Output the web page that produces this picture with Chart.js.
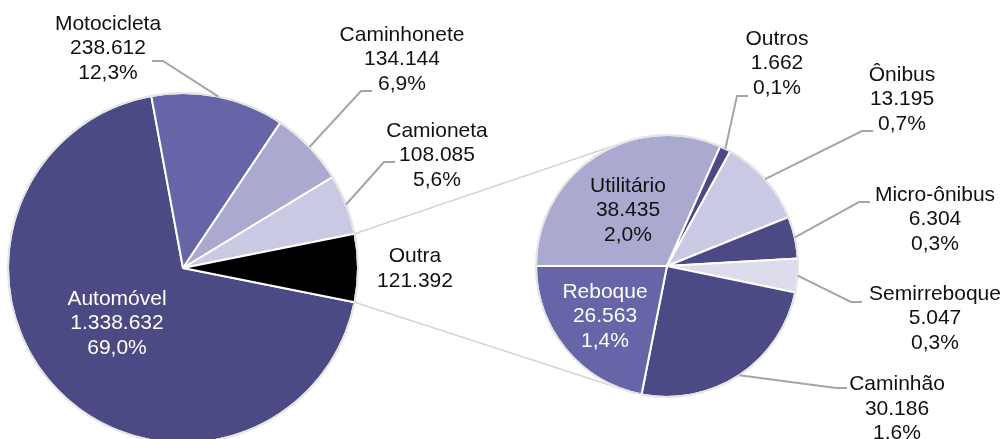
<!DOCTYPE html>
<html>
<head>
<meta charset="utf-8">
<script src="https://cdn.jsdelivr.net/npm/chart.js@4/dist/chart.umd.min.js"></script>
<style>
html, body { margin: 0; padding: 0; background: #fff; overflow: hidden; }
#wrap { position: relative; width: 1001px; height: 439px; }
#wrap canvas { position: absolute; left: 0; top: 0; }
</style>
</head>
<body>
<div id="wrap">
	<canvas id="main" width="1001" height="439"></canvas>
	<canvas id="detail" width="1001" height="439"></canvas>
</div>
<script>
// frota por tipo de veículo
const mainLabels = ['Automóvel', 'Motocicleta', 'Caminhonete', 'Camioneta', 'Outra'];
const mainValues = [1338632, 238612, 134144, 108085, 121392];

// detalhamento de "Outra"
const detailLabels = ['Utilitário', 'Outros', 'Ônibus', 'Micro-ônibus', 'Semirreboque', 'Caminhão', 'Reboque'];
const detailValues = [38435, 1662, 13195, 6304, 5047, 30186, 26563];

const mainColors = ['#4b4a85', '#6565a7', '#aaaad1', '#c9c9e3', '#000000'];
const detailColors = ['#aaaad1', '#4b4a85', '#c9c9e3', '#4b4a85', '#dcdcec', '#4b4a85', '#6565a7'];

// posição dos rótulos (centro do bloco de texto) e ponta da linha de chamada
const mainLabelLayout = [
	{x: 117, y: 323.7, color: '#ffffff'},
	{x: 108, y: 48.5, lead: [152, 61]},
	{x: 402, y: 59.7, lead: [372, 91]},
	{x: 437, y: 155.3, lead: [395, 162]},
	{x: 415, y: 268.5, noPct: true}
];
const detailLabelLayout = [
	{x: 628, y: 210.3},
	{x: 777, y: 63.3, lead: [748, 96]},
	{x: 902, y: 99.3, lead: [873, 131]},
	{x: 935, y: 219.7, lead: [870, 202]},
	{x: 935, y: 318.3, lead: [862, 302]},
	{x: 897, y: 409, lead: [847, 388]},
	{x: 605, y: 316.3, color: '#ffffff'}
];

const grandTotal = mainValues.reduce((a, b) => a + b, 0);
const outraShare = mainValues[4] / grandTotal;

const FONT = '21px "Liberation Sans", Arial, sans-serif';
const LINE_H = 24.5;

function fmtInt(v) {
	return String(v).replace(/\B(?=(\d{3})+(?!\d))/g, '.');
}
function fmtPct(v) {
	return (v / grandTotal * 100).toFixed(1).replace('.', ',') + '%';
}

function labelPlugin(labels, values, layout) {
	return {
		id: 'sliceLabels',
		afterDatasetsDraw: function (chart) {
			const ctx = chart.ctx;
			const arcs = chart.getDatasetMeta(0).data;
			const a0 = arcs[0].getProps(['x', 'y', 'outerRadius'], true);

			ctx.save();
			// contorno externo cinza claro
			ctx.beginPath();
			ctx.arc(a0.x, a0.y, a0.outerRadius, 0, Math.PI * 2);
			ctx.strokeStyle = '#e4e4e4';
			ctx.lineWidth = 2;
			ctx.stroke();

			ctx.font = FONT;
			ctx.textAlign = 'center';
			ctx.textBaseline = 'middle';

			arcs.forEach(function (arc, i) {
				const p = arc.getProps(['x', 'y', 'startAngle', 'endAngle', 'outerRadius'], true);
				const l = layout[i];
				if (l.lead) {
					const mid = (p.startAngle + p.endAngle) / 2;
					const ax = p.x + Math.cos(mid) * p.outerRadius;
					const ay = p.y + Math.sin(mid) * p.outerRadius;
					const dir = ax > l.lead[0] ? 1 : -1;
					ctx.beginPath();
					ctx.moveTo(ax, ay);
					ctx.lineTo(l.lead[0] + dir * 11, l.lead[1]);
					ctx.lineTo(l.lead[0], l.lead[1]);
					ctx.strokeStyle = '#a5a5a5';
					ctx.lineWidth = 2;
					ctx.stroke();
				}
				const lines = [labels[i], fmtInt(values[i])];
				if (!l.noPct) {
					lines.push(fmtPct(values[i]));
				}
				ctx.fillStyle = l.color || '#111111';
				lines.forEach(function (t, k) {
					ctx.fillText(t, l.x, l.y + (k - (lines.length - 1) / 2) * LINE_H);
				});
			});
			ctx.restore();
		}
	};
}

const mainChart = new Chart(document.getElementById('main'), {
	type: 'pie',
	data: {
		labels: mainLabels,
		datasets: [{
			data: mainValues,
			backgroundColor: mainColors,
			borderColor: '#ffffff',
			borderWidth: 2,
			clip: false
		}]
	},
	options: {
		responsive: false,
		animation: false,
		events: [],
		radius: 175,
		rotation: 90 + outraShare * 180,
		layout: {padding: {left: 0, top: 97, right: 635, bottom: 0}},
		plugins: {legend: {display: false}, tooltip: {enabled: false}}
	},
	plugins: [labelPlugin(mainLabels, mainValues, mainLabelLayout)]
});

// linhas que ligam a fatia "Outra" à pizza de detalhe
const connectorPlugin = {
	id: 'connector',
	beforeDatasetsDraw: function (chart) {
		const outra = mainChart.getDatasetMeta(0).data[4].getProps(['x', 'y', 'startAngle', 'endAngle', 'outerRadius'], true);
		const c = chart.getDatasetMeta(0).data[0].getProps(['x', 'y', 'outerRadius'], true);
		const ctx = chart.ctx;
		[[outra.startAngle, -1], [outra.endAngle, 1]].forEach(function (e) {
			const px = outra.x + Math.cos(e[0]) * outra.outerRadius;
			const py = outra.y + Math.sin(e[0]) * outra.outerRadius;
			const d = Math.hypot(px - c.x, py - c.y);
			const base = Math.atan2(py - c.y, px - c.x);
			const alpha = Math.acos(c.outerRadius / d);
			let t1 = base + alpha, t2 = base - alpha;
			let ang = (Math.sin(t1) * e[1] > Math.sin(t2) * e[1]) ? t1 : t2;
			ctx.save();
			ctx.beginPath();
			ctx.moveTo(px, py);
			ctx.lineTo(c.x + Math.cos(ang) * c.outerRadius, c.y + Math.sin(ang) * c.outerRadius);
			ctx.strokeStyle = '#d4d4d4';
			ctx.lineWidth = 1.5;
			ctx.stroke();
			ctx.restore();
		});
	}
};

new Chart(document.getElementById('detail'), {
	type: 'pie',
	data: {
		labels: detailLabels,
		datasets: [{
			data: detailValues,
			backgroundColor: detailColors,
			borderColor: '#ffffff',
			borderWidth: 2,
			clip: false
		}]
	},
	options: {
		responsive: false,
		animation: false,
		events: [],
		radius: 131,
		rotation: 270,
		layout: {padding: {left: 333, top: 93, right: 0, bottom: 0}},
		plugins: {legend: {display: false}, tooltip: {enabled: false}}
	},
	plugins: [connectorPlugin, labelPlugin(detailLabels, detailValues, detailLabelLayout)]
});
</script>
</body>
</html>
